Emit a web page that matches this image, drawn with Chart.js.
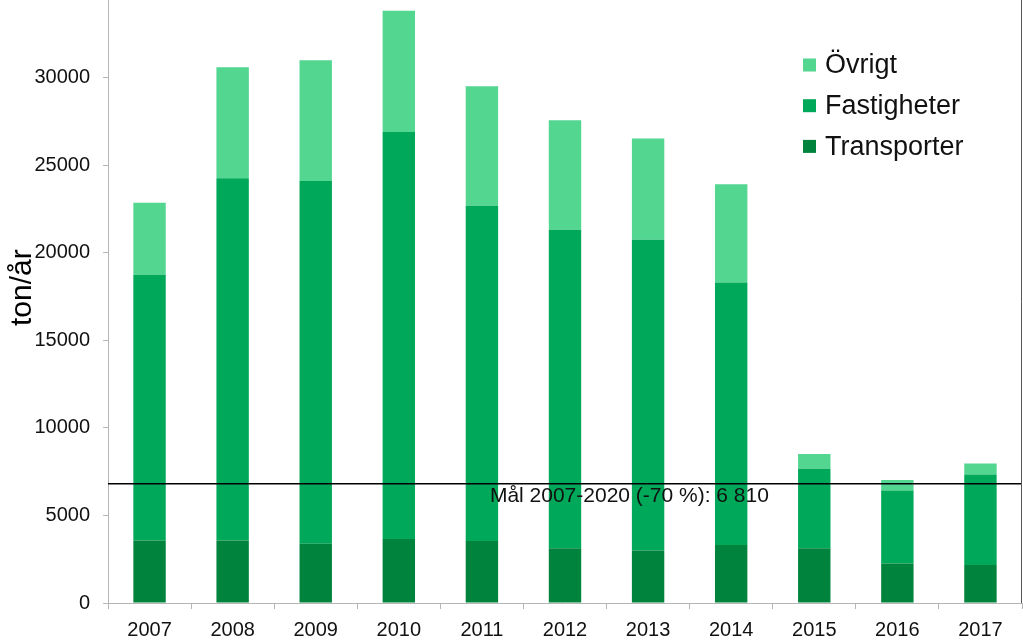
<!DOCTYPE html>
<html>
<head>
<meta charset="utf-8">
<script src="https://cdn.jsdelivr.net/npm/chart.js@4/dist/chart.umd.min.js"></script>
<style>
  html, body { margin: 0; padding: 0; background: #ffffff; }
  #wrap { width: 1023px; height: 642px; position: relative; }
</style>
</head>
<body>
<div id="wrap"><canvas id="c" width="1023" height="642"></canvas></div>
<script>
const years = ['2007','2008','2009','2010','2011','2012','2013','2014','2015','2016','2017'];
const transporter = [3570, 3570, 3390, 3650, 3540, 3120, 3000, 3310, 3120, 2260, 2170];
const fastigheter = [15170, 20690, 20710, 23250, 19150, 18190, 17750, 14990, 4550, 4170, 5170];
const ovrigt = [4110, 6340, 6890, 6920, 6820, 6260, 5770, 5620, 835, 590, 630];
const yTickValues = [0, 5000, 10000, 15000, 20000, 25000, 30000];
const goalValue = 6810;
const goalLabel = 'Mål 2007-2020 (-70 %): 6 810';
const yAxisTitle = 'ton/år';
const yMax = 34435;

const FONT = "'Liberation Sans', Arial, sans-serif";

const goalPlugin = {
  id: 'goal',
  afterDatasetsDraw(chart) {
    const {ctx, chartArea} = chart;
    const y = chart.scales.y.getPixelForValue(goalValue);
    ctx.save();
    ctx.strokeStyle = '#000000';
    ctx.lineWidth = 1.3;
    ctx.beginPath();
    ctx.moveTo(chartArea.left, y);
    ctx.lineTo(chartArea.right, y);
    ctx.stroke();
    ctx.fillStyle = '#111111';
    ctx.font = '21px ' + FONT;
    ctx.textBaseline = 'middle';
    ctx.textAlign = 'left';
    const x = chart.scales.x.getPixelForValue(4) + 8;
    ctx.fillText(goalLabel, x, y + 12);
    // right border
    ctx.strokeStyle = '#555555';
    ctx.lineWidth = 1;
    ctx.beginPath();
    ctx.moveTo(chartArea.right - 0.5, chartArea.top);
    ctx.lineTo(chartArea.right - 0.5, chartArea.bottom);
    ctx.stroke();
    ctx.restore();
  }
};

const axisTitlePlugin = {
  id: 'axisTitle',
  afterDraw(chart) {
    const {ctx, chartArea} = chart;
    ctx.save();
    ctx.font = '30px ' + FONT;
    ctx.fillStyle = '#000000';
    ctx.textAlign = 'center';
    ctx.textBaseline = 'middle';
    ctx.translate(23, chartArea.top + (chartArea.bottom - chartArea.top) * 0.477);
    ctx.rotate(-Math.PI / 2);
    ctx.fillText(yAxisTitle, 0, 0);
    ctx.restore();
  }
};

const legendPlugin = {
  id: 'customLegend',
  afterDraw(chart) {
    const {ctx, chartArea} = chart;
    const items = chart.data.datasets.slice().reverse();
    ctx.save();
    ctx.font = '27px ' + FONT;
    ctx.textBaseline = 'middle';
    ctx.textAlign = 'left';
    const boxX = chartArea.right - 219;
    const top = 65;
    items.forEach((ds, i) => {
      const cy = top + i * 40.7;
      ctx.fillStyle = ds.backgroundColor;
      ctx.fillRect(boxX, cy - 6.5, 13, 13);
      ctx.fillStyle = '#111111';
      ctx.fillText(ds.label, boxX + 22, cy + 1);
    });
    ctx.restore();
  }
};

new Chart(document.getElementById('c'), {
  type: 'bar',
  data: {
    labels: years,
    datasets: [
      { label: 'Transporter', data: transporter, backgroundColor: '#00843D' },
      { label: 'Fastigheter', data: fastigheter, backgroundColor: '#00A859' },
      { label: 'Övrigt', data: ovrigt, backgroundColor: '#52D690' }
    ]
  },
  options: {
    responsive: false,
    animation: false,
    layout: { padding: { top: 0, right: 1, bottom: -9, left: 0 } },
    datasets: { bar: { categoryPercentage: 1.0, barPercentage: 0.39, borderWidth: 0 } },
    plugins: {
      legend: { display: false },
      tooltip: { enabled: false },
      title: { display: false }
    },
    scales: {
      x: {
        stacked: true,
        grid: { display: true, drawOnChartArea: false, tickLength: 6, color: '#b5b5b5', offset: true },
        border: { display: true, color: '#b5b5b5', width: 1 },
        ticks: { color: '#111111', font: { family: FONT, size: 20 }, padding: 9, maxRotation: 0 }
      },
      y: {
        stacked: true,
        min: 0,
        max: yMax,
        afterBuildTicks: (scale) => { scale.ticks = yTickValues.map(v => ({ value: v })); },
        afterFit: (scale) => { scale.paddingTop = 0; scale.paddingBottom = 0; scale.width = 108; },
        grid: { display: true, drawOnChartArea: false, tickLength: 5, color: '#b5b5b5' },
        border: { display: true, color: '#b5b5b5', width: 1 },
        ticks: { color: '#111111', font: { family: FONT, size: 20 }, padding: 13, callback: (v) => String(v) },
        title: { display: false }
      }
    }
  },
  plugins: [goalPlugin, axisTitlePlugin, legendPlugin]
});
</script>
</body>
</html>
